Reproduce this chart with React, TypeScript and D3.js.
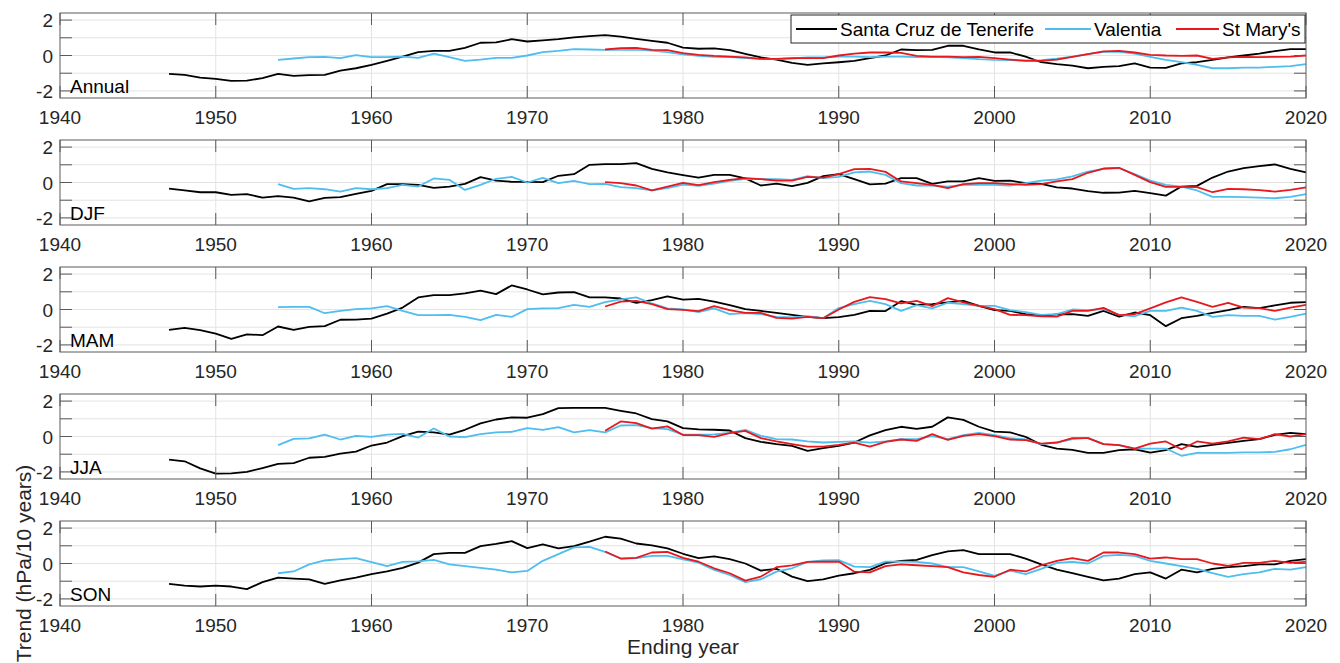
import React from "react";
import * as d3 from "d3";

const SERIES_NAMES = ["Santa Cruz de Tenerife", "Valentia", "St Mary's"];
const SERIES_COLORS = ["#000000", "#4DBEEE", "#E6191E"];
const START_YEARS = [1947, 1954, 1975];
const END_YEAR = 2020;
const SEASONS = ["Annual", "DJF", "MAM", "JJA", "SON"];
const X_TICKS = [1940, 1950, 1960, 1970, 1980, 1990, 2000, 2010, 2020];
const Y_TICKS = [-2, -1, 0, 1, 2];
const Y_LABELS = [-2, 0, 2];

// Santa Cruz de Tenerife, 1947-2020
const annualTenerife = [
  -1.04, -1.09, -1.25, -1.32, -1.43, -1.42, -1.28, -1.04, -1.15, -1.11,
  -1.09, -0.85, -0.72, -0.53, -0.3, -0.06, 0.19, 0.26, 0.26, 0.43,
  0.72, 0.74, 0.92, 0.79, 0.85, 0.92, 1.02, 1.09, 1.15, 1.06,
  0.94, 0.83, 0.72, 0.45, 0.38, 0.4, 0.3, 0.09, -0.11, -0.23,
  -0.42, -0.53, -0.45, -0.38, -0.3, -0.15, 0, 0.34, 0.3, 0.32,
  0.55, 0.55, 0.34, 0.17, 0.17, -0.06, -0.38, -0.49, -0.57, -0.72,
  -0.64, -0.6, -0.45, -0.68, -0.7, -0.45, -0.38, -0.25, -0.11, 0,
  0.11, 0.25, 0.36, 0.36,
];
// Valentia, 1954-2020
const annualValentia = [
  -0.25, -0.17, -0.09, -0.08, -0.15, 0.02, -0.09, -0.09, -0.06, -0.13,
  0.11, -0.09, -0.3, -0.23, -0.13, -0.13, 0, 0.19, 0.26, 0.36,
  0.34, 0.32, 0.32, 0.33, 0.28, 0.19, 0.06, -0.02, -0.08, -0.09,
  -0.15, -0.19, -0.21, -0.17, -0.11, -0.11, -0.06, -0.06, -0.09, -0.06,
  -0.06, -0.09, -0.08, -0.11, -0.15, -0.21, -0.25, -0.26, -0.28, -0.26,
  -0.18, -0.06, 0.08, 0.2, 0.2, 0.1, -0.08, -0.25, -0.38, -0.53,
  -0.72, -0.72, -0.68, -0.68, -0.64, -0.6, -0.49,
];
// St Mary's, 1975-2020
const annualStMarys = [
  0.34, 0.42, 0.43, 0.32, 0.3, 0.13, 0.04, -0.02, -0.06, -0.11,
  -0.19, -0.19, -0.15, -0.15, -0.15, 0, 0.11, 0.17, 0.17, 0.15,
  -0.02, -0.06, -0.06, -0.09, -0.08, -0.15, -0.23, -0.3, -0.3, -0.23,
  -0.08, 0.08, 0.23, 0.26, 0.17, 0.04, 0, -0.02, 0, -0.19,
  -0.11, -0.08, -0.09, -0.08, -0.06, 0,
];

const djfTenerife = [
  -0.34, -0.45, -0.55, -0.55, -0.7, -0.66, -0.85, -0.77, -0.85, -1.06,
  -0.87, -0.83, -0.64, -0.47, -0.09, -0.09, -0.13, -0.3, -0.23, -0.08,
  0.3, 0.11, 0.04, 0.04, 0.02, 0.38, 0.47, 1.0, 1.04, 1.04,
  1.09, 0.77, 0.57, 0.42, 0.28, 0.43, 0.43, 0.23, -0.17, -0.06,
  -0.21, -0.02, 0.36, 0.47, 0.19, -0.11, -0.06, 0.25, 0.25, -0.08,
  0.06, 0.06, 0.25, 0.09, 0.11, -0.04, -0.08, -0.28, -0.34, -0.49,
  -0.58, -0.57, -0.47, -0.6, -0.74, -0.23, -0.19, 0.28, 0.62, 0.81,
  0.92, 1.02, 0.77, 0.57,
];
const djfValentia = [
  -0.09, -0.36, -0.32, -0.38, -0.51, -0.32, -0.38, -0.32, -0.13, -0.23,
  0.23, 0.15, -0.42, -0.13, 0.21, 0.32, 0, 0.26, -0.04, 0.09,
  -0.09, -0.08, -0.26, -0.32, -0.45, -0.32, -0.12, -0.19, -0.06, 0.09,
  0.21, 0.19, 0.19, 0.15, 0.36, 0.25, 0.32, 0.57, 0.62, 0.43,
  -0.04, -0.17, -0.17, -0.23, -0.13, -0.13, -0.13, -0.17, -0.04, 0.11,
  0.17, 0.34, 0.62, 0.77, 0.81, 0.47, 0.11, -0.13, -0.23, -0.45,
  -0.81, -0.81, -0.83, -0.85, -0.89, -0.81, -0.66,
];
const djfStMarys = [
  0.02, -0.04, -0.17, -0.45, -0.23, -0.02, -0.15, 0.02, 0.15, 0.25,
  0.19, 0.11, 0.11, 0.32, 0.28, 0.47, 0.75, 0.77, 0.6, 0.06,
  -0.04, -0.13, -0.32, -0.09, -0.04, -0.04, -0.09, -0.13, -0.09, 0.06,
  0.19, 0.55, 0.79, 0.83, 0.43, 0.02, -0.25, -0.25, -0.26, -0.55,
  -0.36, -0.38, -0.43, -0.51, -0.42, -0.28,
];

const mamTenerife = [
  -1.15, -1.04, -1.17, -1.36, -1.66, -1.4, -1.45, -0.96, -1.15, -0.98,
  -0.94, -0.58, -0.57, -0.51, -0.23, 0.11, 0.68, 0.81, 0.81, 0.91,
  1.06, 0.87, 1.36, 1.13, 0.85, 0.96, 0.98, 0.68, 0.68, 0.62,
  0.38, 0.53, 0.74, 0.56, 0.6, 0.45, 0.25, 0.02, -0.08, -0.19,
  -0.3, -0.42, -0.49, -0.43, -0.3, -0.08, -0.09, 0.47, 0.26, 0.3,
  0.4, 0.49, 0.21, -0.04, -0.08, -0.26, -0.36, -0.28, -0.26, -0.36,
  -0.08, -0.4, -0.17, -0.32, -0.94, -0.49, -0.36, -0.19, -0.04, 0.15,
  0.08, 0.23, 0.38, 0.42,
];
const mamValentia = [
  0.13, 0.15, 0.15, -0.21, -0.08, 0.02, 0.06, 0.19, -0.08, -0.32,
  -0.32, -0.3, -0.42, -0.6, -0.3, -0.42, 0.02, 0.06, 0.08, 0.26,
  0.15, 0.42, 0.57, 0.68, 0.34, 0.06, 0.01, -0.15, 0.06, -0.26,
  -0.21, -0.26, -0.42, -0.45, -0.38, -0.49, 0.08, 0.3, 0.49, 0.3,
  -0.08, 0.25, 0.06, 0.38, 0.3, 0.21, 0.21, -0.04, -0.15, -0.3,
  -0.26, 0, -0.04, 0.02, -0.3, -0.38, -0.08, -0.08, 0.11, -0.08,
  -0.42, -0.32, -0.36, -0.36, -0.57, -0.42, -0.23,
];
const mamStMarys = [
  0.17, 0.45, 0.49, 0.3, 0.02, -0.02, -0.09, 0.19, -0.04, -0.19,
  -0.19, -0.47, -0.51, -0.42, -0.49, 0, 0.43, 0.7, 0.58, 0.34,
  0.49, 0.19, 0.64, 0.4, 0.21, 0.02, -0.3, -0.32, -0.38, -0.4,
  -0.08, -0.08, 0.09, -0.32, -0.26, 0.06, 0.4, 0.68, 0.43, 0.15,
  0.38, 0.11, 0.08, -0.08, 0.11, 0.26,
];

const jjaTenerife = [
  -1.3, -1.4, -1.8, -2.1, -2.08, -2.0, -1.78, -1.55, -1.5, -1.2,
  -1.15, -0.97, -0.85, -0.51, -0.34, 0.02, 0.28, 0.23, 0.11, 0.38,
  0.74, 0.96, 1.08, 1.06, 1.26, 1.6, 1.62, 1.62, 1.62, 1.45,
  1.3, 0.98, 0.85, 0.47, 0.4, 0.38, 0.34, -0.09, -0.3, -0.43,
  -0.53, -0.81, -0.66, -0.53, -0.34, 0.06, 0.36, 0.55, 0.43, 0.55,
  1.08, 0.94, 0.55, 0.28, 0.23, -0.02, -0.47, -0.68, -0.75, -0.92,
  -0.92, -0.77, -0.72, -0.91, -0.77, -0.43, -0.58, -0.47, -0.36, -0.25,
  -0.15, 0.09, 0.21, 0.13,
];
const jjaValentia = [
  -0.49, -0.13, -0.11, 0.11, -0.17, 0.04, -0.02, 0.11, 0.15, -0.06,
  0.45, 0, -0.04, 0.13, 0.23, 0.26, 0.47, 0.38, 0.53, 0.23,
  0.36, 0.23, 0.62, 0.64, 0.47, 0.42, 0.11, 0.1, 0.12, 0.21,
  0.38, 0.04, -0.15, -0.17, -0.28, -0.34, -0.3, -0.28, -0.35, -0.28,
  -0.15, -0.15, 0.02, -0.15, 0.08, 0.21, 0.08, -0.09, -0.17, -0.43,
  -0.34, -0.15, -0.08, -0.43, -0.49, -0.68, -0.68, -0.68, -1.09, -0.92,
  -0.92, -0.92, -0.9, -0.9, -0.87, -0.72, -0.47,
];
const jjaStMarys = [
  0.32, 0.85, 0.75, 0.45, 0.57, 0.08, 0.08, -0.02, 0.19, 0.32,
  -0.09, -0.28, -0.43, -0.57, -0.57, -0.47, -0.34, -0.57, -0.3, -0.17,
  -0.25, 0.13, -0.19, 0.04, 0.13, 0.02, -0.17, -0.21, -0.4, -0.34,
  -0.09, -0.09, -0.43, -0.49, -0.68, -0.4, -0.28, -0.72, -0.28, -0.4,
  -0.28, -0.06, -0.15, 0.13, 0, 0.13,
];

const sonTenerife = [
  -1.15, -1.25, -1.3, -1.25, -1.3, -1.45, -1.05, -0.8, -0.85, -0.9,
  -1.15, -0.95, -0.8, -0.6, -0.45, -0.25, 0.05, 0.53, 0.6, 0.6,
  0.98, 1.11, 1.26, 0.87, 1.08, 0.85, 0.98, 1.23, 1.51, 1.4,
  1.13, 1.02, 0.85, 0.55, 0.3, 0.4, 0.25, 0, -0.4, -0.3,
  -0.74, -1.0, -0.9, -0.68, -0.55, -0.36, 0.02, 0.15, 0.21, 0.47,
  0.68, 0.75, 0.53, 0.53, 0.53, 0.28, -0.05, -0.35, -0.55, -0.75,
  -0.95, -0.85, -0.6, -0.5, -0.85, -0.35, -0.5, -0.3, -0.2, -0.15,
  -0.05, -0.05, 0.15, 0.25,
];
const sonValentia = [
  -0.55, -0.45, -0.05, 0.17, 0.25, 0.3, 0.08, -0.15, 0.09, 0.12,
  0.2, -0.05, -0.15, -0.25, -0.35, -0.5, -0.42, 0.15, 0.53, 0.91,
  0.94, 0.66, 0.28, 0.3, 0.43, 0.43, 0.23, 0.05, -0.36, -0.65,
  -1.05, -0.89, -0.46, -0.27, 0.09, 0.17, 0.19, -0.18, -0.21, 0.11,
  0.11, 0.09, 0.0, -0.2, -0.2, -0.45, -0.7, -0.4, -0.6, -0.3,
  0.04, 0.09, 0.0, 0.43, 0.49, 0.43, 0.15, 0.0, -0.15, -0.3,
  -0.55, -0.75, -0.6, -0.5, -0.3, -0.35, -0.2,
];
const sonStMarys = [
  0.68, 0.28, 0.32, 0.62, 0.66, 0.32, 0.1, -0.27, -0.55, -0.97,
  -0.74, -0.21, -0.1, 0.09, 0.1, 0.11, -0.46, -0.5, -0.15, -0.05,
  -0.1, -0.15, -0.2, -0.5, -0.65, -0.75, -0.35, -0.45, -0.1, 0.15,
  0.3, 0.15, 0.62, 0.62, 0.53, 0.28, 0.34, 0.25, 0.25, 0,
  -0.13, 0.04, 0.04, 0.15, 0.04, 0.09,
];

const PANEL_DATA = [
  [annualTenerife, annualValentia, annualStMarys],
  [djfTenerife, djfValentia, djfStMarys],
  [mamTenerife, mamValentia, mamStMarys],
  [jjaTenerife, jjaValentia, jjaStMarys],
  [sonTenerife, sonValentia, sonStMarys],
];

const FONT = "'Liberation Sans', Arial, Helvetica, sans-serif";
const TEXT_COLOR = "#262626";
const AXIS_COLOR = "#5a5a5a";
const GRID_COLOR = "#e3e3e3";

export default function App() {
  const W = 1340;
  const H = 663;
  const left = 60;
  const right = 1306;
  const firstTop = 13;
  const pitch = 127;
  const ph = 85;
  const tickLen = 12;

  const x = d3.scaleLinear().domain([1940, END_YEAR]).range([left, right]);

  const panels = SEASONS.map((season, i) => {
    const top = firstTop + i * pitch;
    const bottom = top + ph;
    const y = d3.scaleLinear().domain([-2.4, 2.4]).range([bottom, top]);
    const line = d3
      .line<[number, number]>()
      .x((d) => x(d[0]))
      .y((d) => y(d[1]));
    const series = PANEL_DATA[i].map((vals, s) =>
      vals.map((v, k) => [START_YEARS[s] + k, v] as [number, number])
    );
    return (
      <g key={season}>
        {/* grid */}
        {X_TICKS.slice(1, -1).map((t) => (
          <line key={"gx" + t} x1={x(t)} x2={x(t)} y1={top} y2={bottom} stroke={GRID_COLOR} strokeWidth={1} />
        ))}
        {Y_TICKS.map((t) => (
          <line key={"gy" + t} x1={left} x2={right} y1={y(t)} y2={y(t)} stroke={GRID_COLOR} strokeWidth={1} />
        ))}
        {/* data */}
        {series.map((pts, s) => (
          <path
            key={"s" + s}
            d={line(pts) || ""}
            fill="none"
            stroke={SERIES_COLORS[s]}
            strokeWidth={1.8}
            strokeLinejoin="round"
          />
        ))}
        {/* box */}
        <rect x={left} y={top} width={right - left} height={ph} fill="none" stroke={AXIS_COLOR} strokeWidth={1} />
        {/* ticks */}
        {X_TICKS.map((t) => (
          <g key={"tx" + t}>
            <line x1={x(t)} x2={x(t)} y1={bottom} y2={bottom - tickLen} stroke={AXIS_COLOR} strokeWidth={1} />
            <line x1={x(t)} x2={x(t)} y1={top} y2={top + tickLen} stroke={AXIS_COLOR} strokeWidth={1} />
            <text x={x(t)} y={bottom + 25.5} textAnchor="middle" fontSize={19} fill={TEXT_COLOR} fontFamily={FONT}>
              {t}
            </text>
          </g>
        ))}
        {Y_TICKS.map((t) => (
          <g key={"ty" + t}>
            <line x1={left} x2={left + tickLen} y1={y(t)} y2={y(t)} stroke={AXIS_COLOR} strokeWidth={1} />
            <line x1={right} x2={right - tickLen} y1={y(t)} y2={y(t)} stroke={AXIS_COLOR} strokeWidth={1} />
          </g>
        ))}
        {Y_LABELS.map((t) => (
          <text key={"ly" + t} x={left - 7} y={y(t) + 7} textAnchor="end" fontSize={19} fill={TEXT_COLOR} fontFamily={FONT}>
            {t < 0 ? "-" + Math.abs(t) : String(t)}
          </text>
        ))}
        <text x={left + 10} y={bottom - 5} fontSize={19} fill="#000" fontFamily={FONT}>
          {season}
        </text>
      </g>
    );
  });

  const legendX = 791;
  const legendY = 15;
  const legendW = 514;
  const legendH = 28;
  const entries = [
    { x1: 796, x2: 837, tx: 840 },
    { x1: 1045, x2: 1091, tx: 1094 },
    { x1: 1176, x2: 1219, tx: 1222 },
  ];

  const sonTop = firstTop + 4 * pitch;
  const sonBottom = sonTop + ph;

  return (
    <svg
      width={W}
      height={H}
      viewBox={`0 0 ${W} ${H}`}
      style={{ position: "absolute", top: 0, left: 0, background: "#fff" }}
    >
      <rect x={0} y={0} width={W} height={H} fill="#fff" />
      {panels}
      <g>
        <rect x={legendX} y={legendY} width={legendW} height={legendH} fill="#fff" stroke="#262626" strokeWidth={1} />
        {SERIES_NAMES.map((name, s) => (
          <g key={name}>
            <line
              x1={entries[s].x1}
              x2={entries[s].x2}
              y1={legendY + legendH / 2}
              y2={legendY + legendH / 2}
              stroke={SERIES_COLORS[s]}
              strokeWidth={1.8}
            />
            <text x={entries[s].tx} y={legendY + legendH / 2 + 7} fontSize={19} fill="#000" fontFamily={FONT}>
              {name}
            </text>
          </g>
        ))}
      </g>
      <text x={(left + right) / 2} y={sonBottom + 48} textAnchor="middle" fontSize={21} fill={TEXT_COLOR} fontFamily={FONT}>
        Ending year
      </text>
      <text
        transform={`translate(${31}, ${(sonTop + sonBottom) / 2}) rotate(-90)`}
        textAnchor="middle"
        fontSize={21}
        fill={TEXT_COLOR}
        fontFamily={FONT}
      >
        Trend (hPa/10 years)
      </text>
    </svg>
  );
}
